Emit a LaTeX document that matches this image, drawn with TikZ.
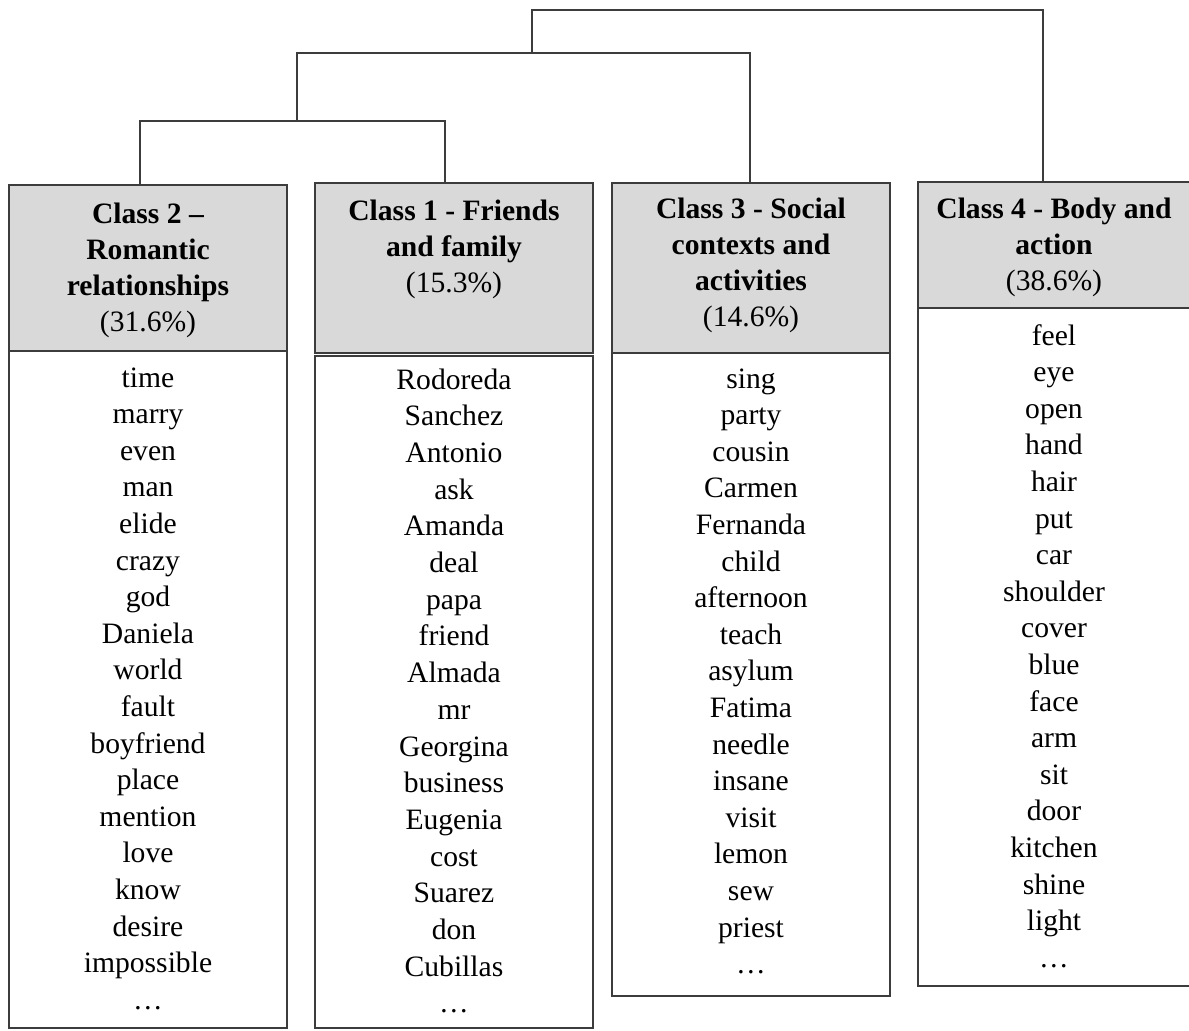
\documentclass[tikz,border=0pt]{standalone}
\usepackage{fontspec}
\setmainfont{Liberation Serif}
\definecolor{linec}{HTML}{3C3C3C}
\definecolor{hdrfill}{HTML}{D9D9D9}
\begin{document}
\begin{tikzpicture}[x=0.5pt,y=-0.5pt,
  box/.style={draw=linec, line width=0.75pt, inner sep=0pt, outer sep=0pt, anchor=north west},
  hdr/.style={box, fill=hdrfill},
  conn/.style={draw=linec, line width=0.6pt},
  word/.style={anchor=base, inner sep=0pt, font=\fontsize{14.8}{18}\selectfont},
  ttl/.style={anchor=base, inner sep=0pt, font=\fontsize{14.8}{18}\selectfont\bfseries}]
\useasboundingbox (0,0) rectangle (1189,1030);
\clip (0,0) rectangle (1189,1030);
% boxes
\node[hdr, minimum width=139pt, minimum height=83pt] (h2) at (9,185) {};
\node[box, minimum width=139pt, minimum height=338.5pt] (l2) at (9,351) {};
\node[hdr, minimum width=139pt, minimum height=85pt] (h1) at (315,183) {};
\node[box, minimum width=139pt, minimum height=336pt] (l1) at (315,356) {};
\node[hdr, minimum width=139pt, minimum height=85pt] (h3) at (612,183) {};
\node[box, minimum width=139pt, minimum height=321.5pt] (l3) at (612,353) {};
\node[hdr, minimum width=137pt, minimum height=63pt] (h4) at (918,182) {};
\node[box, minimum width=137pt, minimum height=339pt] (l4) at (918,308) {};
% connectors
\coordinate (j21) at (297,121);
\coordinate (j213) at (532,53);
\coordinate (jtop) at (800,10);
\draw[conn] (h2.north -| 140,0) |- (j21) -| (h1.north -| 445,0);
\draw[conn] (j21) |- (j213) -| (h3.north -| 750,0);
\draw[conn] (j213) |- (jtop) -| (h4.north -| 1043,0);
% titles
\foreach \t [count=\i from 0] in {Class 2 –,Romantic,relationships}
  \node[ttl] (t2-\i) at (148,{223+\i*36}) {\t};
\node[word] (p2) at (148,331) {(31.6\%)};
\foreach \t [count=\i from 0] in {Class 1 - Friends,and family}
  \node[ttl] (t1-\i) at (454,{220+\i*36}) {\t};
\node[word] (p1) at (454,292) {(15.3\%)};
\foreach \t [count=\i from 0] in {Class 3 - Social,contexts and,activities}
  \node[ttl] (t3-\i) at (751,{218+\i*36}) {\t};
\node[word] (p3) at (751,326) {(14.6\%)};
\foreach \t [count=\i from 0] in {Class 4 - Body and,action}
  \node[ttl] (t4-\i) at (1054,{218+\i*36}) {\t};
\node[word] (p4) at (1054,290) {(38.6\%)};
% word lists
\foreach \w [count=\i from 0] in {time,marry,even,man,elide,crazy,god,Daniela,world,fault,boyfriend,place,mention,love,know,desire,impossible,\ldots}
  \node[word] (w2-\i) at (148,{387+\i*36.6}) {\w};
\foreach \w [count=\i from 0] in {Rodoreda,Sanchez,Antonio,ask,Amanda,deal,papa,friend,Almada,mr,Georgina,business,Eugenia,cost,Suarez,don,Cubillas,\ldots}
  \node[word] (w1-\i) at (454,{389+\i*36.7}) {\w};
\foreach \w [count=\i from 0] in {sing,party,cousin,Carmen,Fernanda,child,afternoon,teach,asylum,Fatima,needle,insane,visit,lemon,sew,priest,\ldots}
  \node[word] (w3-\i) at (751,{388+\i*36.6}) {\w};
\foreach \w [count=\i from 0] in {feel,eye,open,hand,hair,put,car,shoulder,cover,blue,face,arm,sit,door,kitchen,shine,light,\ldots}
  \node[word] (w4-\i) at (1054,{345+\i*36.6}) {\w};
\end{tikzpicture}
\end{document}
